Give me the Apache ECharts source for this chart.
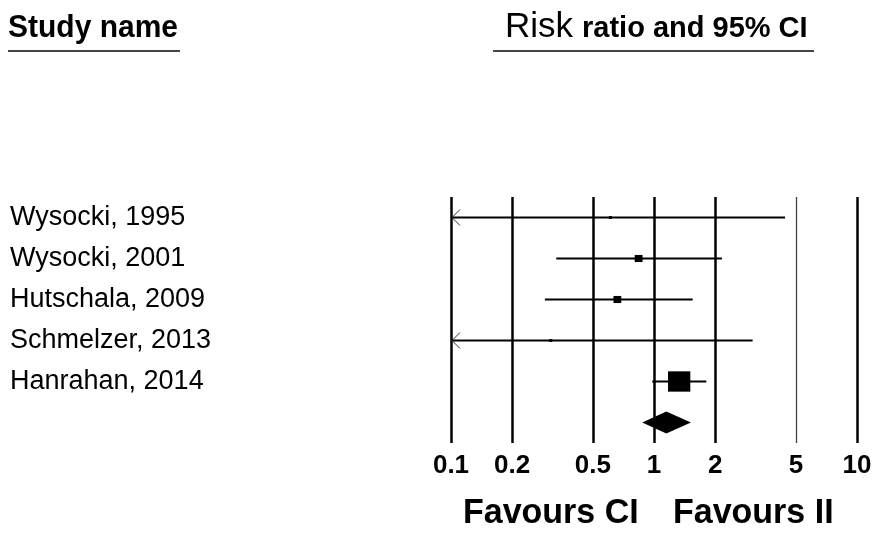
<!DOCTYPE html>
<html><head><meta charset="utf-8">
<script src="https://cdn.jsdelivr.net/npm/echarts@6/dist/echarts.min.js"></script>
<style>html,body{margin:0;padding:0;background:#fff}#c{width:875px;height:533px}</style>
</head><body><div id="c"></div>
<script>
// ---- data ----
const studies   = ['Wysocki, 1995', 'Wysocki, 2001', 'Hutschala, 2009', 'Schmelzer, 2013', 'Hanrahan, 2014'];
const riskRatio = [0.61, 0.84, 0.66, 0.31, 1.33];
const lowerCI   = [0.05, 0.33, 0.29, 0.03, 0.98];
const upperCI   = [4.42, 2.16, 1.55, 3.06, 1.81];
const weights   = [1.5, 9.5, 9.5, 1.5, 78];
const pooledRR    = [1.15];
const pooledLower = [0.875];
const pooledUpper = [1.52];
const tickValues = [0.1, 0.2, 0.5, 1, 2, 5, 10];
const tickLabels = ['0.1', '0.2', '0.5', '1', '2', '5', '10'];

const lg = Math.log10;
const X_MIN = lg(tickValues[0]);
const X_MAX = lg(tickValues[tickValues.length - 1]);
const categories = studies.concat(['']);

const studyData = studies.map((s, i) => [lg(riskRatio[i]), i, lg(lowerCI[i]), lg(upperCI[i]), weights[i]]);
const pooledData = pooledRR.map((r, i) => [lg(r), studies.length, lg(pooledLower[i]), lg(pooledUpper[i])]);

function renderStudy(params, api) {
  const y = api.value(1);
  const c = api.coord([api.value(0), y]);
  let lo = api.value(2), hi = api.value(3);
  const arrowL = lo < X_MIN, arrowR = hi > X_MAX;
  lo = Math.max(lo, X_MIN); hi = Math.min(hi, X_MAX);
  const pL = api.coord([lo, y]), pH = api.coord([hi, y]);
  const side = Math.sqrt(api.value(4)) * 2.3;
  const children = [
    { type: 'line', shape: { x1: pL[0], y1: pL[1], x2: pH[0], y2: pH[1] },
      style: { stroke: '#000', lineWidth: 2 } },
    { type: 'rect', shape: { x: c[0] - side * 0.55, y: c[1] - side / 2, width: side * 1.1, height: side },
      style: { fill: '#000' } }
  ];
  if (arrowL) children.push({ type: 'polyline',
    shape: { points: [[pL[0] + 9, pL[1] - 8], [pL[0] + 1, pL[1]], [pL[0] + 9, pL[1] + 8]] },
    style: { stroke: '#333', lineWidth: 1, fill: null } });
  if (arrowR) children.push({ type: 'polyline',
    shape: { points: [[pH[0] - 9, pH[1] - 8], [pH[0] - 1, pH[1]], [pH[0] - 9, pH[1] + 8]] },
    style: { stroke: '#333', lineWidth: 1, fill: null } });
  return { type: 'group', children };
}

function renderPooled(params, api) {
  const y = api.value(1);
  const c = api.coord([api.value(0), y]);
  const pL = api.coord([api.value(2), y]), pH = api.coord([api.value(3), y]);
  const h = 11;
  return { type: 'polygon',
    shape: { points: [[pL[0], c[1]], [c[0], c[1] - h], [pH[0], c[1]], [c[0], c[1] + h]] },
    style: { fill: '#000' } };
}

const vLines = tickValues.map(v => v === 5
  ? { xAxis: lg(v), lineStyle: { color: '#444', width: 1.3, type: 'solid' } }
  : { xAxis: lg(v) });

const FONT = '"Liberation Sans", Arial, sans-serif';
function txt(x, y, text, font, sy) {
  return { type: 'text', x: x, y: y, scaleY: sy || 1,
    style: { text: text, fill: '#000', font: font, align: 'left', verticalAlign: 'middle',
      textAlign: 'left', textVerticalAlign: 'middle' } };
}

const chart = echarts.init(document.getElementById('c'), null, { renderer: 'canvas' });
chart.setOption({
  animation: false,
  backgroundColor: '#fff',
  grid: { left: 451, right: 18, top: 197, bottom: 90, containLabel: false },
  xAxis: {
    type: 'value', min: X_MIN, max: X_MAX,
    axisLine: { show: false }, axisTick: { show: false }, splitLine: { show: false },
    axisLabel: {
      customValues: tickValues.map(lg),
      margin: 10,
      color: '#000',
      fontFamily: FONT,
      fontWeight: 'bold', fontSize: 26,
      formatter: v => {
        const i = tickValues.findIndex(t => Math.abs(lg(t) - v) < 1e-6);
        return i >= 0 ? tickLabels[i] : '';
      }
    }
  },
  yAxis: {
    type: 'category', data: categories, inverse: true,
    axisLine: { show: false }, axisTick: { show: false }, splitLine: { show: false },
    axisLabel: {
      align: 'left', margin: 441, color: '#000',
      fontFamily: FONT, fontSize: 27
    }
  },
  series: [
    {
      type: 'custom', renderItem: renderStudy, data: studyData, z: 3, clip: false,
      markLine: {
        silent: true, symbol: 'none', label: { show: false },
        lineStyle: { color: '#000', width: 2.5, type: 'solid' },
        data: vLines, z: 1
      }
    },
    { type: 'custom', renderItem: renderPooled, data: pooledData, z: 3, clip: false }
  ],
  graphic: [
    txt(8, 28, 'Study name', 'bold 30px ' + FONT, 1.06),
    { type: 'line', shape: { x1: 8, y1: 51, x2: 180, y2: 51 }, style: { stroke: '#444', lineWidth: 2 } },
    txt(505, 27, 'Risk', '35px ' + FONT, 1.0),
    txt(582, 29, 'ratio and 95% CI', 'bold 29px ' + FONT, 1.0),
    { type: 'line', shape: { x1: 493, y1: 51, x2: 814, y2: 51 }, style: { stroke: '#444', lineWidth: 2 } },
    txt(463, 513, 'Favours CI', 'bold 34px ' + FONT, 1.04),
    txt(673, 513, 'Favours II', 'bold 34px ' + FONT, 1.04)
  ]
});
</script>
</body></html>
